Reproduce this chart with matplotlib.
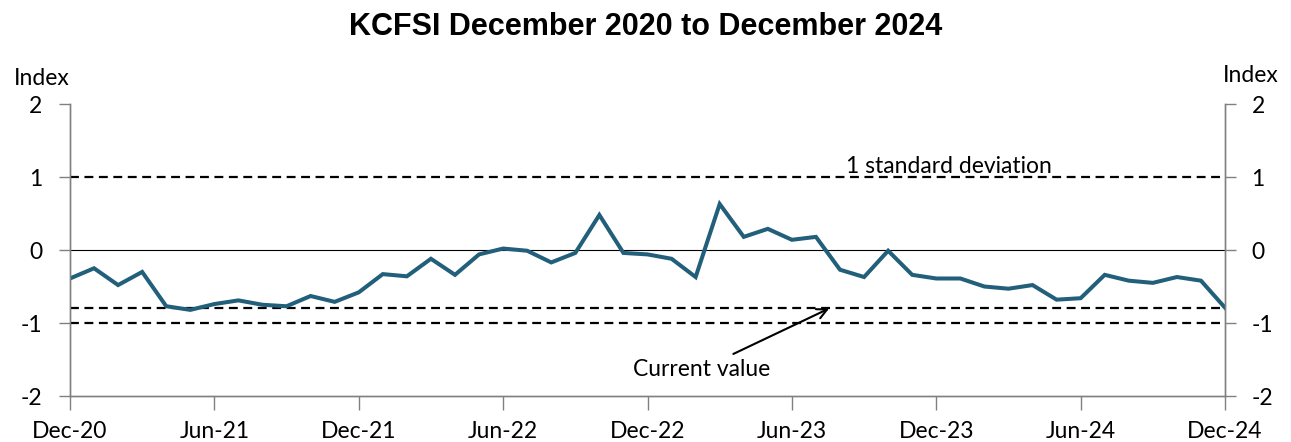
# KCFSI : indice de stress financier, déc. 2020 à déc. 2024
import numpy as np
import matplotlib
matplotlib.use("Agg")
import matplotlib.pyplot as plt

# valeurs mensuelles
months = np.arange(49)
kcfsi = [
    -0.39, -0.25, -0.48, -0.30, -0.77, -0.82, -0.74, -0.69, -0.75, -0.77,
    -0.63, -0.71, -0.58, -0.33, -0.36, -0.12, -0.34, -0.06, 0.02, -0.01,
    -0.17, -0.04, 0.48, -0.04, -0.06, -0.12, -0.37, 0.63, 0.18, 0.29,
    0.14, 0.18, -0.27, -0.37, -0.01, -0.34, -0.39, -0.39, -0.50, -0.53,
    -0.48, -0.68, -0.66, -0.34, -0.42, -0.45, -0.37, -0.42, -0.79,
]
tick_pos = [0, 6, 12, 18, 24, 30, 36, 42, 48]
tick_labels = ["Dec-20", "Jun-21", "Dec-21", "Jun-22", "Dec-22",
               "Jun-23", "Dec-23", "Jun-24", "Dec-24"]
y_ticks = [-2, -1, 0, 1, 2]
std_dev = 1.0
current = kcfsi[-1]

BODY = ["Lato", "DejaVu Sans"]
TITLE = ["Liberation Sans Narrow", "Liberation Sans", "DejaVu Sans"]
FS = 16.5
LINE_COLOR = "#225f7a"
AXIS_COLOR = "#808080"

fig = plt.figure(figsize=(12.91, 4.42), dpi=100)
ax = fig.add_axes([0.0542, 0.104, 0.8947, 0.6607])

ax.plot(months, kcfsi, color=LINE_COLOR, linewidth=2.9, solid_joinstyle="miter", zorder=4)
ax.axhline(0, color="black", linewidth=0.8, zorder=2)
for yv in (std_dev, -std_dev, current):
    ax.axhline(yv, color="black", linewidth=1.6, linestyle=(0, (4, 2.5)), zorder=3)

ax.set_xlim(0, 48)
ax.set_ylim(-2, 2)
ax.set_xticks(tick_pos)
ax.set_xticklabels(tick_labels, family=BODY, fontsize=FS)
ax.set_yticks(y_ticks)
ax.set_yticklabels([str(v) for v in y_ticks], family=BODY, fontsize=FS)
ax.tick_params(axis="x", length=10, width=1, color=AXIS_COLOR, pad=8)
ax.tick_params(axis="y", length=8, width=1, color=AXIS_COLOR, pad=12)

ax2 = ax.twinx()
ax2.set_ylim(-2, 2)
ax2.set_yticks(y_ticks)
ax2.set_yticklabels([str(v) for v in y_ticks], family=BODY, fontsize=FS)
ax2.tick_params(axis="y", length=8, width=1, color=AXIS_COLOR, pad=11)

for a in (ax, ax2):
    a.spines["top"].set_visible(False)
    for s in ("left", "right", "bottom"):
        a.spines[s].set_color(AXIS_COLOR)
        a.spines[s].set_linewidth(1)

fig.text(0.032, 0.823, "Index", family=BODY, fontsize=FS, ha="center", va="center")
fig.text(0.969, 0.830, "Index", family=BODY, fontsize=FS, ha="center", va="center")

ax.text(36.53, std_dev + 0.055, "1 standard deviation", family=BODY, fontsize=FS,
        ha="center", va="baseline")
ax.annotate("Current value", xy=(31.55, current - 0.01), xytext=(29.1, -1.63),
            family=BODY, fontsize=FS, ha="right", va="center",
            arrowprops=dict(arrowstyle="->", color="black", lw=1.5,
                            shrinkA=3, shrinkB=0, mutation_scale=18))

fig.suptitle("KCFSI December 2020 to December 2024", family=TITLE, fontsize=22,
             fontweight="bold", x=0.5, y=0.972, va="top")

fig.savefig("out.png", dpi=100)
